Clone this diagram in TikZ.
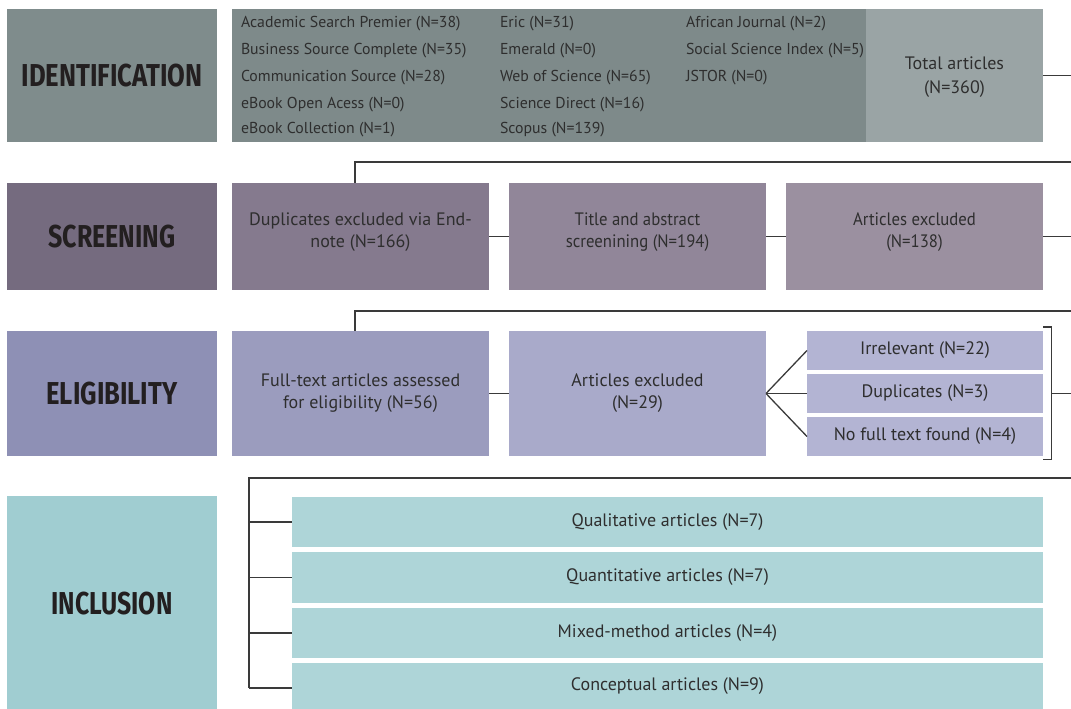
\documentclass[tikz,border=0pt]{standalone}
\usepackage{fontspec}
\usepackage{graphicx}
\setmainfont{PT Sans}
\newfontfamily\headf{Fira Sans}
\definecolor{idlab}{HTML}{7F8C8C}
\definecolor{iddat}{HTML}{7E8A8A}
\definecolor{idtot}{HTML}{9AA4A5}
\definecolor{sclab}{HTML}{756B7F}
\definecolor{scone}{HTML}{857A8E}
\definecolor{sctwo}{HTML}{918699}
\definecolor{scthr}{HTML}{9B90A0}
\definecolor{ellab}{HTML}{8E90B5}
\definecolor{elone}{HTML}{9B9CBE}
\definecolor{eltwo}{HTML}{A9AACA}
\definecolor{elsub}{HTML}{B3B4D3}
\definecolor{inlab}{HTML}{A0CDD1}
\definecolor{insub}{HTML}{AED5D8}
\definecolor{txt}{HTML}{2E2E2E}
\definecolor{headtxt}{HTML}{231F20}
\definecolor{wire}{HTML}{3A3A3A}
\newcommand{\hdr}[2]{\resizebox{#2pt}{22.5pt}{\headf\bfseries #1}}
\newcommand{\narrow}[1]{\scalebox{0.93}[1]{#1}}
\begin{document}
\begin{tikzpicture}[x=1pt,y=-1pt,
  blk/.style={inner sep=0pt,outer sep=0pt,align=center,text=txt,font=\fontsize{18}{22}\selectfont},
  hd/.style={blk,text=headtxt},
  lst/.style={inner sep=0pt,outer sep=0pt,anchor=west,text=txt,font=\fontsize{15.8}{18}\selectfont},
  wirel/.style={draw=wire,line width=1.3pt}]
\useasboundingbox (0,0) rectangle (1071,709);
\begin{scope}
\clip (0,0) rectangle (1071,709);
% Identification row
\node[hd,fill=idlab,minimum width=210pt,minimum height=133pt] (idl) at (112,75.5) {\hdr{IDENTIFICATION}{181}};
\node[blk,fill=iddat,minimum width=634pt,minimum height=133pt] (iddata) at (549,75.5) {};
\node[blk,fill=idtot,minimum width=177pt,minimum height=133pt] (total) at (954.5,75.5) {};
\node[blk,font=\fontsize{18}{24}\selectfont] (totalt) at (954.5,77) {Total articles\\(N=360)};
\node[lst] (d11) at (241,23.5) {Academic Search Premier (N=38)};
\node[lst] (d12) at (241,50.5) {Business Source Complete (N=35)};
\node[lst] (d13) at (241,77.5) {Communication Source (N=28)};
\node[lst] (d14) at (241,104.5) {eBook Open Acess (N=0)};
\node[lst] (d15) at (241,129.5) {eBook Collection (N=1)};
\node[lst] (d21) at (500,23.5) {Eric (N=31)};
\node[lst] (d22) at (500,50.5) {Emerald (N=0)};
\node[lst] (d23) at (500,77.5) {Web of Science (N=65)};
\node[lst] (d24) at (500,104.5) {Science Direct (N=16)};
\node[lst] (d25) at (500,129.5) {Scopus (N=139)};
\node[lst] (d31) at (686,23.5) {African Journal (N=2)};
\node[lst] (d32) at (686,50.5) {Social Science Index (N=5)};
\node[lst] (d33) at (686,77.5) {JSTOR (N=0)};
% Screening row
\node[hd,fill=sclab,minimum width=210pt,minimum height=107pt] (scl) at (112,236.5) {\hdr{SCREENING}{127}};
\node[blk,fill=scone,minimum width=257pt,minimum height=107pt] (s1) at (360.5,236.5) {};
\node[blk,fill=sctwo,minimum width=257pt,minimum height=107pt] (s2) at (637.5,236.5) {};
\node[blk,fill=scthr,minimum width=257pt,minimum height=107pt] (s3) at (914.5,236.5) {};
\node[blk] (s1t) at (360.5,232.5) {Duplicates excluded via End-\\note (N=166)};
\node[blk] (s2t) at (637.5,232.5) {\narrow{Title and abstract}\\\narrow{screenining (N=194)}};
\node[blk] (s3t) at (914.5,232.5) {\narrow{Articles excluded}\\\narrow{(N=138)}};
% Eligibility row
\node[hd,fill=ellab,minimum width=210pt,minimum height=125pt] (ell) at (112,393.5) {\hdr{ELIGIBILITY}{131}};
\node[blk,fill=elone,minimum width=257pt,minimum height=125pt] (e1) at (360.5,393.5) {};
\node[blk,fill=eltwo,minimum width=257pt,minimum height=125pt] (e2) at (637.5,393.5) {};
\node[blk] (e1t) at (360.5,393) {Full-text articles assessed\\for eligibility (N=56)};
\node[blk] (e2t) at (637.5,393) {Articles excluded\\(N=29)};
\node[blk,fill=elsub,minimum width=236pt,minimum height=39pt] (e3a) at (925,350.5) {Irrelevant (N=22)};
\node[blk,fill=elsub,minimum width=236pt,minimum height=39pt] (e3b) at (925,393.5) {Duplicates (N=3)};
\node[blk,fill=elsub,minimum width=236pt,minimum height=39pt] (e3c) at (925,436.5) {No full text found (N=4)};
% Inclusion row
\node[hd,fill=inlab,minimum width=210pt,minimum height=216pt] (inl) at (112,604) {\hdr{INCLUSION}{121}};
\node[blk,fill=insub,minimum width=751pt,minimum height=50pt] (i1) at (667.5,522) {Qualitative articles (N=7)};
\node[blk,fill=insub,minimum width=751pt,minimum height=51pt] (i2) at (667.5,577.5) {Quantitative articles (N=7)};
\node[blk,fill=insub,minimum width=751pt,minimum height=50pt] (i3) at (667.5,633) {Mixed-method articles (N=4)};
\node[blk,fill=insub,minimum width=751pt,minimum height=50pt] (i4) at (667.5,688) {};
\node[blk] (i4t) at (667.5,686) {Conceptual articles (N=9)};
% free ends of the connectors at the right margin
\coordinate (r1) at (1071,75.5);
\coordinate (r2) at (1071,162);
\coordinate (r3) at (1071,236.5);
\coordinate (r4) at (1071,311);
\coordinate (r5) at (1071,393.5);
\coordinate (r6) at (1071,478);
\coordinate (c2) at (355,162);
\coordinate (c4) at (355,311);
\coordinate (c6) at (249,478);
\coordinate (bt) at (1051.5,327);
\coordinate (bb) at (1051.5,459.5);
\coordinate (bm) at (1051.5,393.5);
% connectors
\draw[wirel] (total.east) -- (r1);
\draw[wirel] (r2) -- (c2) -- (c2 |- s1.north);
\draw[wirel] (s1.east) -- (s2.west);
\draw[wirel] (s2.east) -- (s3.west);
\draw[wirel] (s3.east) -- (r3);
\draw[wirel] (r4) -- (c4) -- (c4 |- e1.north);
\draw[wirel] (e1.east) -- (e2.west);
\draw[wirel] (e2.east) -- (e3a.west);
\draw[wirel] (e2.east) -- (e3b.west);
\draw[wirel] (e2.east) -- (e3c.west);
\draw[wirel] (bt -| e3a.east) -- (bt) -- (bb) -- (bb -| e3c.east);
\draw[wirel] (bm) -- (r5);
\draw[wirel] (r6) -- (c6) -- (c6 |- i4.west);
\draw[wirel] (c6 |- i1.west) -- (i1.west);
\draw[wirel] (c6 |- i2.west) -- (i2.west);
\draw[wirel] (c6 |- i3.west) -- (i3.west);
\draw[wirel] (c6 |- i4.west) -- (i4.west);
\end{scope}
\end{tikzpicture}
\end{document}
